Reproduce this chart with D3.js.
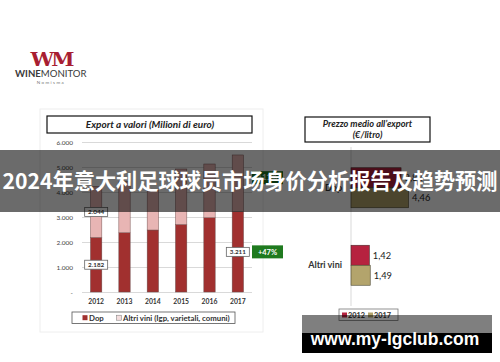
<!DOCTYPE html>
<html>
<head>
<meta charset="utf-8">
<script src="https://cdn.jsdelivr.net/npm/d3@7"></script>
<style>
  body { margin: 0; background: #fff; }
  svg { display: block; font-family: Lato, "Open Sans", sans-serif; }
</style>
</head>
<body>
<svg class="canvas" width="500" height="362"></svg>
<script>
// left chart: export value (million euro)
var years = ["2012", "2013", "2014", "2015", "2016", "2017"];
var dop = [2182, 2370, 2480, 2700, 2970, 3211];
var altri = [2044, 2040, 1600, 2220, 2150, 2270];
var yTicks = [0, 1000, 2000, 3000, 4000, 5000, 6000];

// right chart: average export price (euro / litre)
var priceCats = ["Dop", "Altri vini"];
var price2012 = [3.88, 1.42];
var price2017 = [4.46, 1.49];

var fmt = function(v) { return v === 0 ? "-" : d3.format(",")(v).replace(/,/g, "."); };
var fmtPrice = function(v) { return v.toFixed(2).replace(".", ","); };

var svg = d3.select(".canvas");

// ---- logo
var logo = svg.append("g");
logo.append("text")
  .attr("x", 51).attr("y", 66.5)
  .attr("text-anchor", "middle")
  .attr("font-family", "DejaVu Serif")
  .attr("font-weight", "bold")
  .attr("font-size", 21)
  .attr("letter-spacing", -3)
  .attr("fill", "#a81e32")
  .attr("transform", "translate(51,0) scale(1,0.85) translate(-51,11.7)")
  .text("WM");
logo.append("text")
  .attr("x", 15).attr("y", 77)
  .attr("font-size", 9.6)
  .attr("fill", "#3a3a3a")
  .call(function(t) {
    t.append("tspan").attr("font-weight", "bold").text("WINE");
    t.append("tspan").text("MONITOR");
  });
logo.append("text")
  .attr("x", 51).attr("y", 84)
  .attr("text-anchor", "middle")
  .attr("font-size", 4.5)
  .attr("letter-spacing", 1.4)
  .attr("fill", "#777")
  .text("Nomisma");

// ---- left panel
var left = svg.append("g");
left.append("rect")
  .attr("x", 40).attr("y", 109).attr("width", 223).attr("height", 223)
  .attr("fill", "none").attr("stroke", "#eeeeee");

left.append("rect")
  .attr("x", 47).attr("y", 116).attr("width", 205).attr("height", 17)
  .attr("fill", "#fff").attr("stroke", "#111").attr("stroke-width", 1.2);
left.append("text")
  .attr("x", 150).attr("y", 128.2)
  .attr("text-anchor", "middle")
  .attr("font-size", 10).attr("font-weight", "bold").attr("font-style", "italic")
  .attr("fill", "#222")
  .text("Export a valori (Milioni di euro)");

var x = d3.scaleBand().domain(years).range([82, 252]).paddingInner(0.6).paddingOuter(0.3);
var y = d3.scaleLinear().domain([0, 6000]).range([292, 142]);

var yAxis = d3.axisLeft(y).tickValues(yTicks).tickSize(-170).tickFormat(fmt);
var gy = left.append("g")
  .attr("transform", "translate(82,0)")
  .call(yAxis);
gy.select(".domain").remove();
gy.selectAll(".tick line").attr("stroke", "#d9d9d9");
gy.selectAll(".tick text")
  .attr("x", -9).attr("font-size", 6.5).attr("fill", "#444")
  .attr("font-family", "Lato, sans-serif");

var xAxis = d3.axisBottom(x).tickSize(0);
var gx = left.append("g")
  .attr("transform", "translate(0,292)")
  .call(xAxis);
gx.select(".domain").remove();
gx.selectAll(".tick text")
  .attr("dy", 9).attr("font-size", 6.8).attr("font-weight", "bold").attr("fill", "#333")
  .attr("font-family", "Lato, sans-serif");

left.selectAll(".dopBar")
  .data(dop)
  .enter()
  .append("rect")
  .attr("class", "dopBar")
  .attr("x", function(d, i) { return x(years[i]); })
  .attr("y", function(d) { return y(d); })
  .attr("width", x.bandwidth())
  .attr("height", function(d) { return y(0) - y(d); })
  .attr("fill", "#a1302f")
  .attr("stroke", "#6b4a4a").attr("stroke-width", 0.5);

left.selectAll(".altriBar")
  .data(altri)
  .enter()
  .append("rect")
  .attr("class", "altriBar")
  .attr("x", function(d, i) { return x(years[i]); })
  .attr("y", function(d, i) { return y(dop[i] + d); })
  .attr("width", x.bandwidth())
  .attr("height", function(d) { return y(0) - y(d); })
  .attr("fill", "#e8b5b4")
  .attr("stroke", "#7a5555").attr("stroke-width", 0.5);

function valueBox(cx, cy, txt) {
  var g = left.append("g");
  g.append("rect")
    .attr("x", cx - 11.5).attr("y", cy - 4.5).attr("width", 23).attr("height", 9)
    .attr("fill", "#fff").attr("stroke", "#666").attr("stroke-width", 0.8);
  g.append("text")
    .attr("x", cx).attr("y", cy + 2.3)
    .attr("text-anchor", "middle")
    .attr("font-size", 6.3).attr("font-weight", "bold").attr("fill", "#333")
    .text(txt);
}
var xc = function(i) { return x(years[i]) + x.bandwidth() / 2; };
valueBox(xc(0), y(dop[0] + altri[0] / 2), fmt(altri[0]));
valueBox(xc(0), y(dop[0] / 2), fmt(dop[0]));
valueBox(xc(5), y(dop[5] / 2), fmt(dop[5]));

function growthBox(cy, a, b) {
  var g = left.append("g");
  g.append("rect")
    .attr("x", 252).attr("y", cy - 6.5).attr("width", 31).attr("height", 13)
    .attr("fill", "#1f7a1f");
  g.append("text")
    .attr("x", 267.5).attr("y", cy + 2.7)
    .attr("text-anchor", "middle")
    .attr("font-size", 7.5).attr("font-weight", "bold").attr("fill", "#fff")
    .text("+" + Math.round((b / a - 1) * 100) + "%");
}
growthBox(y(dop[5] / 2), dop[0], dop[5]);
growthBox(y(dop[5] + altri[5] * 0.6), altri[0], altri[5]);

// left legend
var lg = left.append("g");
lg.append("rect")
  .attr("x", 72).attr("y", 312).attr("width", 163).attr("height", 11.5)
  .attr("fill", "#fff").attr("stroke", "#555").attr("stroke-width", 0.8);
lg.append("rect").attr("x", 82.5).attr("y", 315.2).attr("width", 5).attr("height", 5)
  .attr("fill", "#a1302f");
lg.append("text").attr("x", 89).attr("y", 320.6)
  .attr("font-size", 7.8).attr("font-weight", "bold").attr("fill", "#333").text("Dop");
lg.append("rect").attr("x", 116.5).attr("y", 315.2).attr("width", 5).attr("height", 5)
  .attr("fill", "#f4dede").attr("stroke", "#777").attr("stroke-width", 0.5);
lg.append("text").attr("x", 123).attr("y", 320.6)
  .attr("font-size", 7.8).attr("font-weight", "bold").attr("fill", "#333")
  .text("Altri vini (Igp, varietali, comuni)");

// ---- right panel
var right = svg.append("g");
right.append("rect")
  .attr("x", 305).attr("y", 117).attr("width", 125).attr("height", 25)
  .attr("fill", "#fff").attr("stroke", "#111").attr("stroke-width", 1.2);
right.append("text")
  .attr("x", 367.5).attr("y", 126.5)
  .attr("text-anchor", "middle")
  .attr("font-size", 9.2).attr("font-weight", "bold").attr("font-style", "italic")
  .attr("fill", "#222")
  .text("Prezzo medio all\u2019export");
right.append("text")
  .attr("x", 367.5).attr("y", 138)
  .attr("text-anchor", "middle")
  .attr("font-size", 9.2).attr("font-weight", "bold").attr("font-style", "italic")
  .attr("fill", "#222")
  .text("(\u20ac/litro)");

var xr = d3.scaleLinear().domain([0, 5]).range([351, 415.5]);
var yr = d3.scaleBand().domain(priceCats).range([149, 304]);
var barH = 20;

right.append("line")
  .attr("x1", xr(0)).attr("x2", xr(0)).attr("y1", 147).attr("y2", 306)
  .attr("stroke", "#d9d9d9");

var mid = function(c) { return yr(c) + yr.bandwidth() / 2; };

right.selectAll(".p12")
  .data(price2012)
  .enter()
  .append("rect")
  .attr("class", "p12")
  .attr("x", xr(0))
  .attr("y", function(d, i) { return mid(priceCats[i]) - barH; })
  .attr("width", function(d) { return xr(d) - xr(0); })
  .attr("height", barH)
  .attr("fill", "#b6223f").attr("stroke", "#4a2a2a").attr("stroke-width", 0.6);

right.selectAll(".p17")
  .data(price2017)
  .enter()
  .append("rect")
  .attr("class", "p17")
  .attr("x", xr(0))
  .attr("y", function(d, i) { return mid(priceCats[i]); })
  .attr("width", function(d) { return xr(d) - xr(0); })
  .attr("height", barH)
  .attr("fill", "#b3a46c").attr("stroke", "#4a4530").attr("stroke-width", 0.6);

right.selectAll(".l12")
  .data(price2012)
  .enter()
  .append("text")
  .attr("x", function(d) { return xr(d) + 3.5; })
  .attr("y", function(d, i) { return mid(priceCats[i]) - barH / 2 + 3.3; })
  .attr("font-size", 9.3).attr("fill", "#222")
  .text(fmtPrice);

right.selectAll(".l17")
  .data(price2017)
  .enter()
  .append("text")
  .attr("x", function(d) { return xr(d) + 3.5; })
  .attr("y", function(d, i) { return mid(priceCats[i]) + barH / 2 + 3.3; })
  .attr("font-size", 9.3).attr("fill", "#222")
  .text(fmtPrice);

right.selectAll(".cat")
  .data(priceCats)
  .enter()
  .append("text")
  .attr("x", 342).attr("y", function(d) { return mid(d) + 3; })
  .attr("text-anchor", "end")
  .attr("font-size", 9).attr("font-weight", "bold").attr("fill", "#333")
  .text(function(d) { return d; });

// right legend
var rg = right.append("g");
rg.append("rect")
  .attr("x", 339).attr("y", 309).attr("width", 59).attr("height", 11.5)
  .attr("fill", "#fff").attr("stroke", "#777").attr("stroke-width", 0.8);
rg.append("rect").attr("x", 342).attr("y", 312.5).attr("width", 5).attr("height", 5).attr("fill", "#b6223f");
rg.append("text").attr("x", 348).attr("y", 318)
  .attr("font-size", 7.3).attr("font-weight", "bold").attr("fill", "#333").text("2012");
rg.append("rect").attr("x", 368).attr("y", 312.5).attr("width", 5).attr("height", 5).attr("fill", "#b3a46c");
rg.append("text").attr("x", 374).attr("y", 318)
  .attr("font-size", 7.3).attr("font-weight", "bold").attr("fill", "#333").text("2017");

// ---- overlays
svg.append("rect")
  .attr("x", 0).attr("y", 150).attr("width", 500).attr("height", 62)
  .attr("fill", "#000").attr("opacity", 0.58);
svg.append("text")
  .attr("x", 250).attr("y", 189)
  .attr("text-anchor", "middle")
  .attr("font-family", "'Noto Sans CJK SC', sans-serif")
  .attr("font-weight", "bold")
  .attr("font-size", 21.2)
  .attr("fill", "#fff")
  .text("2024年意大利足球球员市场身价分析报告及趋势预测");

svg.append("rect")
  .attr("x", 302).attr("y", 315).attr("width", 190).attr("height", 18)
  .attr("fill", "#000").attr("opacity", 0.5);
svg.append("rect")
  .attr("x", 302).attr("y", 333).attr("width", 190).attr("height", 20)
  .attr("fill", "#000");
svg.append("text")
  .attr("x", 395).attr("y", 345)
  .attr("text-anchor", "middle")
  .attr("font-family", "'Liberation Sans', Arial, sans-serif")
  .attr("font-weight", "bold")
  .attr("font-size", 17.5)
  .attr("fill", "#fff")
  .text("www.my-lgclub.com");
</script>
</body>
</html>
